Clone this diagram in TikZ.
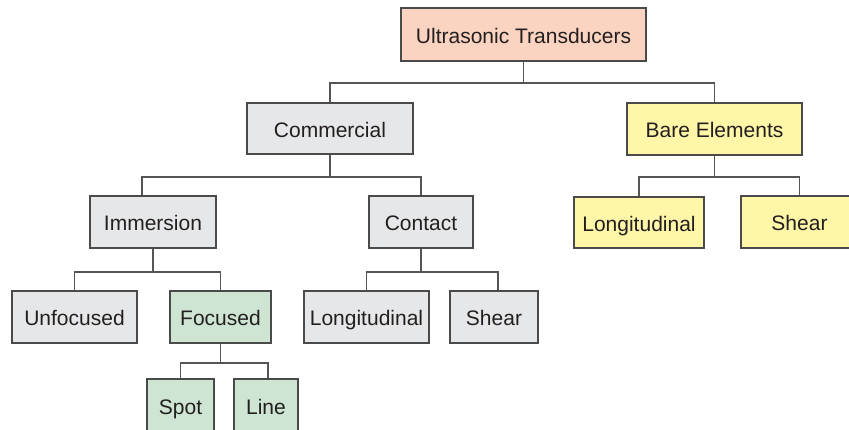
\documentclass[tikz,border=0pt]{standalone}
\usepackage{fontspec}
\setmainfont{Liberation Sans}
\definecolor{salmon}{HTML}{FAD4C0}
\definecolor{greyf}{HTML}{E6E7E8}
\definecolor{yel}{HTML}{FFF6A8}
\definecolor{grn}{HTML}{CDE5D2}
\definecolor{bord}{HTML}{4A4A4A}
\definecolor{txt}{HTML}{231F20}
\definecolor{lin}{HTML}{555555}
\tikzset{
  box/.style={draw=bord, line width=1.1pt, inner sep=0pt, text=txt,
    font=\fontsize{21}{24}\selectfont, text height=18pt, text depth=0pt,
    align=center, minimum height=52pt},
  gbox/.style={box, fill=greyf},
  sbox/.style={box, fill=salmon},
  ybox/.style={box, fill=yel},
  kbox/.style={box, fill=grn},
  conn/.style={draw=lin, line width=1.1pt}
}
\begin{document}
\begin{tikzpicture}[x=1pt,y=-1pt]
\useasboundingbox (0,0) rectangle (849,430);
\clip (0,0) rectangle (849,430);
\fill[white] (0,0) rectangle (849,430);
% nodes
\node[sbox, minimum width=245pt, minimum height=53pt] (ut) at (523.5,34.5) {Ultrasonic Transducers};
\node[gbox, minimum width=166pt, minimum height=51pt] (com) at (330,128.5) {Commercial};
\node[ybox, minimum width=175pt] (bare) at (714.5,129) {Bare Elements};
\node[gbox, minimum width=126pt] (imm) at (153,222) {Immersion};
\node[gbox, minimum width=104pt] (con) at (421,222) {Contact};
\node[ybox, minimum width=130pt, minimum height=51pt] (lonR) at (639,222.5) {Longitudinal};
\node[ybox, minimum width=117pt] (shR) at (799.5,222) {Shear};
\node[gbox, minimum width=125pt] (unf) at (74.5,317) {Unfocused};
\node[kbox, minimum width=101pt] (foc) at (220.5,317) {Focused};
\node[gbox, minimum width=125pt] (lonC) at (366.5,317) {Longitudinal};
\node[gbox, minimum width=88pt] (shC) at (494,317) {Shear};
\node[kbox, minimum width=67pt] (spot) at (180.5,405) {Spot};
\node[kbox, minimum width=64pt] (line) at (266,405) {Line};
% bus coordinates
\coordinate (b1) at (523.5,83);
\coordinate (b2) at (330,177);
\coordinate (b3) at (714.5,177);
\coordinate (b4) at (153,272);
\coordinate (b5) at (421,272);
\coordinate (b6) at (220.5,363);
% connectors
\draw[conn] (ut.south) -- (b1);
\draw[conn] (com.north) |- (b1);
\draw[conn] (bare.north) |- (b1);
\draw[conn] (com.south) -- (b2);
\draw[conn] (imm.north -| 142,0) |- (b2);
\draw[conn] (con.north) |- (b2);
\draw[conn] (bare.south) -- (b3);
\draw[conn] (lonR.north) |- (b3);
\draw[conn] (shR.north) |- (b3);
\draw[conn] (imm.south) -- (b4);
\draw[conn] (unf.north) |- (b4);
\draw[conn] (foc.north) |- (b4);
\draw[conn] (con.south) -- (b5);
\draw[conn] (lonC.north) |- (b5);
\draw[conn] (shC.north -| 498,0) |- (b5);
\draw[conn] (foc.south) -- (b6);
\draw[conn] (spot.north) |- (b6);
\draw[conn] (line.north -| 268,0) |- (b6);
\end{tikzpicture}
\end{document}
